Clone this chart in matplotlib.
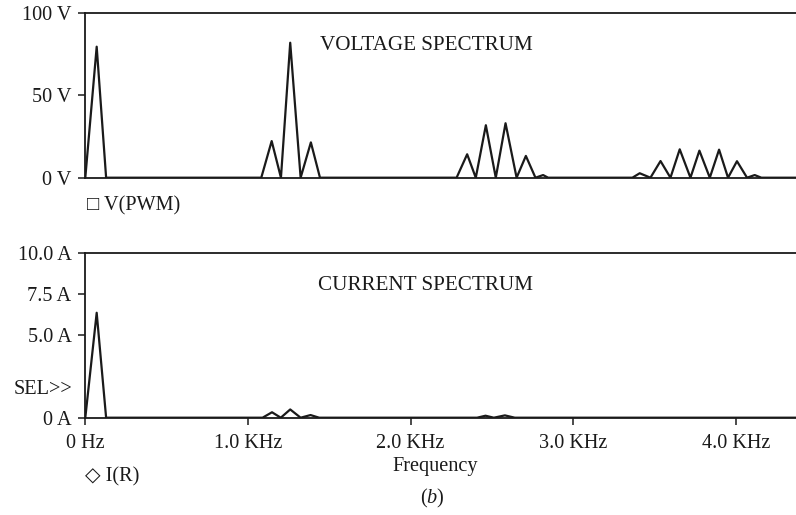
import matplotlib
matplotlib.use('Agg')
import matplotlib.pyplot as plt

plt.rcParams['font.family'] = ['Liberation Serif', 'DejaVu Sans']
plt.rcParams['mathtext.fontset'] = 'custom'
plt.rcParams['mathtext.rm'] = 'Liberation Serif'
plt.rcParams['mathtext.it'] = 'Liberation Serif:italic'

# Voltage spectrum V(PWM), frequency in Hz, amplitude in V
v_freq = [0, 70, 128, 1082, 1146, 1203, 1260, 1324, 1387, 1443,
          2283, 2348, 2401, 2463, 2524, 2584, 2652, 2709, 2768, 2815, 2846,
          3364, 3409, 3475, 3537, 3598, 3655, 3721, 3776, 3840, 3897, 3952,
          4007, 4069, 4116, 4157, 4370]
v_amp = [0, 79.4, 0, 0, 22.2, 0, 81.8, 0, 21.4, 0,
         0, 14.2, 0, 31.8, 0, 33.0, 0, 13.2, 0, 1.6, 0,
         0, 2.7, 0, 10.1, 0, 17.2, 0, 16.4, 0, 17.0, 0,
         10.0, 0, 1.6, 0, 0]

# Current spectrum I(R), frequency in Hz, amplitude in A
i_freq = [0, 70, 128, 1090, 1148, 1202, 1260, 1324, 1385, 1438,
          2409, 2461, 2512, 2580, 2641, 4370]
i_amp = [0, 6.36, 0, 0, 0.33, 0, 0.5, 0, 0.16, 0,
         0, 0.12, 0, 0.14, 0, 0]

x_ticks = [0, 1000, 2000, 3000, 4000]
x_labels = ['0 Hz', '1.0 KHz', '2.0 KHz', '3.0 KHz', '4.0 KHz']
v_ticks = [0, 50, 100]
v_labels = ['0 V', '50 V', '100 V']
i_ticks = [0, 5, 7.5, 10]
i_labels = ['0 A', '5.0 A', '7.5 A', '10.0 A']

W, H = 796, 515
fs = 14.6
fig = plt.figure(figsize=(W / 100, H / 100), dpi=100)

ax1 = fig.add_axes([85.3 / W, 1 - 177.7 / H, 1 - 85.3 / W, 165 / H])
ax2 = fig.add_axes([85.3 / W, 1 - 417.7 / H, 1 - 85.3 / W, 165 / H])

ax1.plot(v_freq, v_amp, color='#1a1a1a', lw=1.6)
ax2.plot(i_freq, i_amp, color='#1a1a1a', lw=1.6)

for ax in (ax1, ax2):
    ax.set_xlim(0, 4370)
    ax.spines['right'].set_visible(False)
    for s in ('left', 'top', 'bottom'):
        ax.spines[s].set_linewidth(1.3)
        ax.spines[s].set_color('#1a1a1a')
    ax.tick_params(axis='y', direction='out', length=5, width=1.1,
                   pad=5, labelsize=fs, colors='#1a1a1a')
    ax.tick_params(axis='x', direction='out', length=5, width=1.1,
                   pad=7, labelsize=fs, colors='#1a1a1a')

ax1.set_ylim(0, 100)
ax1.set_yticks(v_ticks)
ax1.set_yticklabels(v_labels)
ax1.set_xticks([])
ax1.text(320 / W, 1 - 45 / H, 'VOLTAGE SPECTRUM', transform=fig.transFigure,
         fontsize=15.2, va='center', ha='left', color='#1a1a1a')

ax2.set_ylim(0, 10)
ax2.set_yticks(i_ticks)
ax2.set_yticklabels(i_labels)
ax2.set_xticks(x_ticks)
ax2.set_xticklabels(x_labels)
ax2.text(318 / W, 1 - 285 / H, 'CURRENT SPECTRUM', transform=fig.transFigure,
         fontsize=15.2, va='center', ha='left', color='#1a1a1a')

# extra labels
fig.text(72 / W, 1 - 389 / H, 'SEL>>', fontsize=fs, ha='right', va='center',
         color='#1a1a1a')
fig.text(87 / W, 1 - 206 / H, '\u25a1 V(PWM)', fontsize=fs, ha='left',
         va='center', color='#1a1a1a')
fig.text(85 / W, 1 - 477 / H, '\u25c7 I(R)', fontsize=fs, ha='left',
         va='center', color='#1a1a1a')
fig.text(435 / W, 1 - 467 / H, 'Frequency', fontsize=fs, ha='center',
         va='center', color='#1a1a1a')
fig.text(432 / W, 1 - 498 / H, r'($\it{b}$)', fontsize=fs, ha='center',
         va='center', color='#1a1a1a')

fig.savefig('out.png', dpi=100)
